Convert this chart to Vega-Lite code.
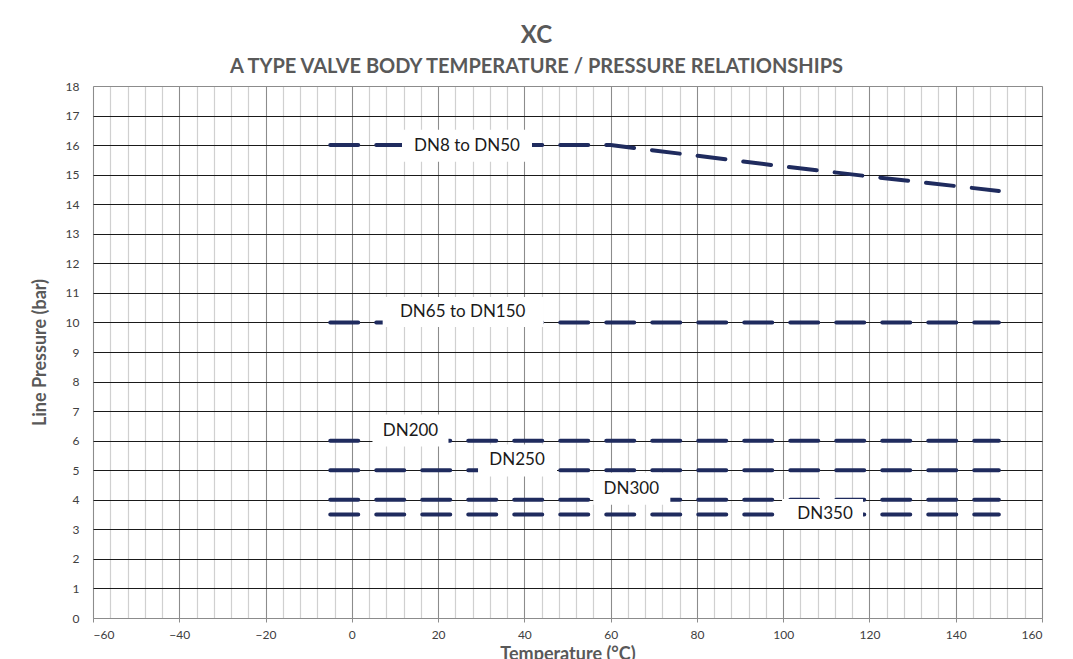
{
  "$schema": "https://vega.github.io/schema/vega-lite/v6.json",
  "width": 949,
  "height": 532,
  "autosize": "none",
  "padding": {"left": 93, "top": 86, "right": 31, "bottom": 41},
  "background": "white",
  "title": {
    "text": "XC",
    "subtitle": "A TYPE VALVE BODY TEMPERATURE / PRESSURE RELATIONSHIPS",
    "anchor": "middle",
    "frame": "group",
    "dx": -31,
    "offset": 3,
    "font": "Lato",
    "fontSize": 24,
    "fontWeight": "bold",
    "color": "#595959",
    "subtitleFont": "Lato",
    "subtitleFontSize": 20,
    "subtitleFontWeight": "bold",
    "subtitleColor": "#595959",
    "subtitlePadding": 9
  },
  "datasets": {
    "lines": [
      {"series": "DN8 to DN50", "temp": -5, "pressure": 16},
      {"series": "DN8 to DN50", "temp": 60, "pressure": 16},
      {"series": "DN8 to DN50", "temp": 100, "pressure": 15.28},
      {"series": "DN8 to DN50", "temp": 120, "pressure": 14.94},
      {"series": "DN8 to DN50", "temp": 150, "pressure": 14.45},
      {"series": "DN65 to DN150", "temp": -5, "pressure": 10},
      {"series": "DN65 to DN150", "temp": 150, "pressure": 10},
      {"series": "DN200", "temp": -5, "pressure": 6},
      {"series": "DN200", "temp": 150, "pressure": 6},
      {"series": "DN250", "temp": -5, "pressure": 5},
      {"series": "DN250", "temp": 150, "pressure": 5},
      {"series": "DN300", "temp": -5, "pressure": 4},
      {"series": "DN300", "temp": 150, "pressure": 4},
      {"series": "DN350", "temp": -5, "pressure": 3.5},
      {"series": "DN350", "temp": 150, "pressure": 3.5}
    ],
    "labels": [
      {"label": "DN8 to DN50", "temp": 26.7, "pressure": 15.98},
      {"label": "DN65 to DN150", "temp": 25.7, "pressure": 10.35},
      {"label": "DN200", "temp": 13.6, "pressure": 6.34},
      {"label": "DN250", "temp": 38.3, "pressure": 5.33},
      {"label": "DN300", "temp": 64.8, "pressure": 4.37},
      {"label": "DN350", "temp": 109.7, "pressure": 3.52}
    ]
  },
  "resolve": {"axis": {"x": "independent", "y": "independent"}},
  "layer": [
    {
      "data": {"name": "lines"},
      "mark": {
        "type": "line",
        "color": "#1f2b5e",
        "strokeWidth": 4,
        "strokeCap": "round",
        "strokeDash": [28, 18]
      },
      "encoding": {
        "x": {
          "field": "temp",
          "type": "quantitative",
          "scale": {"domain": [-60, 160], "nice": false, "zero": false},
          "axis": {
            "orient": "bottom",
            "values": [-60, -56, -52, -48, -44, -40, -36, -32, -28, -24, -20, -16, -12, -8, -4, 0, 4, 8, 12, 16, 20, 24, 28, 32, 36, 40, 44, 48, 52, 56, 60, 64, 68, 72, 76, 80, 84, 88, 92, 96, 100, 104, 108, 112, 116, 120, 124, 128, 132, 136, 140, 144, 148, 152, 156, 160],
            "grid": true,
            "gridColor": "#d0d0d0",
            "gridWidth": 1.2,
            "labels": false,
            "ticks": false,
            "domain": false,
            "title": null
          }
        },
        "y": {
          "field": "pressure",
          "type": "quantitative",
          "scale": {"domain": [0, 18], "nice": false},
          "axis": null
        },
        "detail": {"field": "series"}
      }
    },
    {
      "data": {"name": "labels"},
      "mark": {"type": "point", "filled": true, "fill": "white", "opacity": 1, "size": 4, "strokeWidth": 0},
      "encoding": {
        "x": {
          "field": "temp",
          "type": "quantitative",
          "axis": {
            "orient": "bottom",
            "values": [-60, -40, -20, 0, 20, 40, 60, 80, 100, 120, 140, 160],
            "grid": true,
            "gridColor": "#8c8c8c",
            "gridWidth": 1,
            "domain": true,
            "domainColor": "#8c8c8c",
            "ticks": true,
            "tickColor": "#8c8c8c",
            "tickSize": 4,
            "labelPadding": 7,
            "labelFont": "Lato",
            "labelFontSize": 12,
            "labelColor": "#404040",
            "title": "Temperature (°C)",
            "titleFont": "Lato",
            "titleFontSize": 18,
            "titleFontWeight": "bold",
            "titleColor": "#595959",
            "titleBaseline": "alphabetic",
            "titleY": 41
          }
        },
        "y": {
          "field": "pressure",
          "type": "quantitative",
          "axis": {
            "orient": "left",
            "values": [0, 1, 2, 3, 4, 5, 6, 7, 8, 9, 10, 11, 12, 13, 14, 15, 16, 17, 18],
            "grid": true,
            "gridColor": {"condition": {"test": "datum.value == 0 || datum.value == 18", "value": "#8c8c8c"}, "value": "#1a1a1a"},
            "gridWidth": 1,
            "domain": false,
            "ticks": false,
            "labelPadding": 14,
            "labelFont": "Lato",
            "labelFontSize": 12,
            "labelColor": "#404040",
            "title": "Line Pressure (bar)",
            "titleFont": "Lato",
            "titleFontSize": 18,
            "titleFontWeight": "bold",
            "titleColor": "#595959",
            "titleX": -53,
            "titleBaseline": "middle"
          }
        },
        "shape": {
          "field": "label",
          "type": "nominal",
          "legend": null,
          "scale": {
            "domain": ["DN8 to DN50", "DN65 to DN150", "DN200", "DN250", "DN300", "DN350"],
            "range": [
              "M-65,-16H65V16H-65Z",
              "M-80,-15H81V15H-80Z",
              "M-38,-16H38V16H-38Z",
              "M-39,-16H40V16H-39Z",
              "M-38,-16H39V16H-38Z",
              "M-43,-15H38V15H-43Z"
            ]
          }
        }
      }
    },
    {
      "data": {"name": "labels"},
      "mark": {"type": "text", "font": "Lato", "fontSize": 17, "color": "#1a1a1a", "align": "center", "baseline": "middle"},
      "encoding": {
        "x": {"field": "temp", "type": "quantitative", "axis": null},
        "y": {"field": "pressure", "type": "quantitative", "axis": null},
        "text": {"field": "label"}
      }
    }
  ],
  "config": {"view": {"stroke": null}}
}
